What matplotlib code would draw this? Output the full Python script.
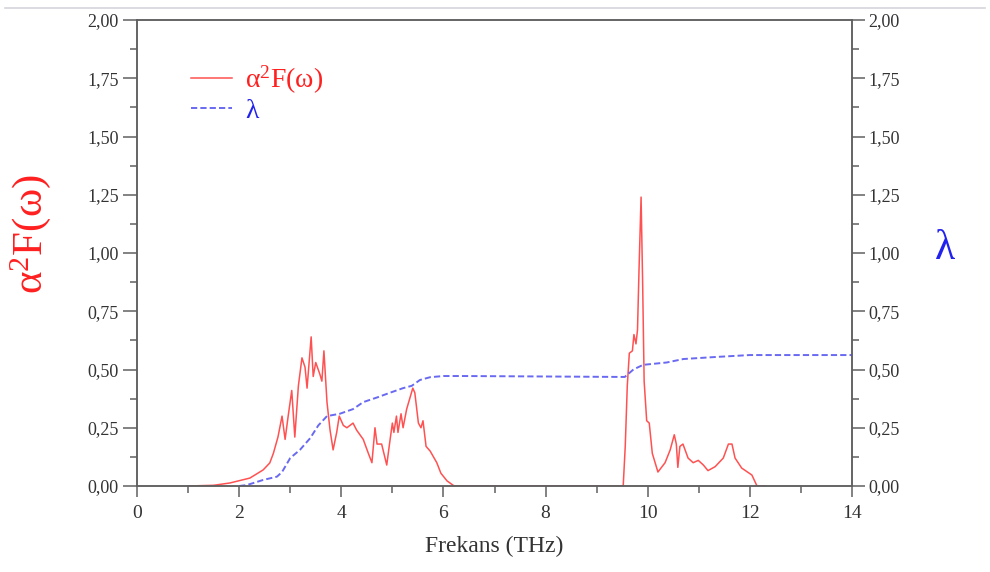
import matplotlib
matplotlib.use("Agg")
import matplotlib.pyplot as plt
from matplotlib.lines import Line2D
from matplotlib.ticker import MultipleLocator, FuncFormatter
import numpy as np

# alpha^2 F(omega) curve
freq_a2f = [1.0, 1.5, 1.82, 2.21, 2.47, 2.6, 2.67, 2.76, 2.84, 2.9, 2.96, 3.03, 3.09, 3.16,
            3.23, 3.29, 3.33, 3.41, 3.45, 3.5, 3.58, 3.62, 3.66, 3.72, 3.78, 3.84, 3.91,
            3.96, 4.04, 4.11, 4.23, 4.30, 4.43, 4.53, 4.6, 4.66, 4.7, 4.79, 4.89, 4.95,
            5.0, 5.03, 5.08, 5.11, 5.17, 5.21, 5.28, 5.40, 5.44, 5.51, 5.56, 5.60, 5.66,
            5.74, 5.87, 5.95, 6.07, 6.21, 6.4,
            9.45, 9.52, 9.56, 9.6, 9.64, 9.7, 9.73, 9.77, 9.8, 9.83, 9.87, 9.9, 9.93, 9.98,
            10.03, 10.09, 10.2, 10.34, 10.44, 10.52, 10.56, 10.59, 10.63, 10.69, 10.79,
            10.89, 10.99, 11.09, 11.18, 11.32, 11.48, 11.58, 11.65, 11.71, 11.84, 12.04,
            12.14, 12.3]
a2f = [0.0, 0.003, 0.013, 0.034, 0.069, 0.099, 0.14, 0.21, 0.30, 0.20, 0.30, 0.41, 0.21, 0.43,
       0.55, 0.51, 0.42, 0.64, 0.47, 0.53, 0.48, 0.45, 0.58, 0.36, 0.24, 0.155, 0.23,
       0.30, 0.26, 0.25, 0.27, 0.24, 0.20, 0.14, 0.10, 0.25, 0.18, 0.18, 0.09, 0.19,
       0.27, 0.23, 0.30, 0.23, 0.31, 0.25, 0.33, 0.42, 0.40, 0.27, 0.25, 0.28, 0.17,
       0.15, 0.10, 0.055, 0.022, 0.0, 0.0,
       0.0, 0.0, 0.17, 0.43, 0.57, 0.58, 0.65, 0.61, 0.67, 0.93, 1.24, 0.88, 0.45, 0.28,
       0.27, 0.14, 0.06, 0.10, 0.155, 0.22, 0.18, 0.08, 0.17, 0.18, 0.12,
       0.10, 0.11, 0.09, 0.066, 0.083, 0.12, 0.18, 0.18, 0.12, 0.077, 0.047,
       0.0, 0.0]

# cumulative lambda
freq_lam = [2.0, 2.15, 2.47, 2.74, 2.84, 3.0, 3.19, 3.39, 3.55, 3.72, 3.97, 4.23, 4.43, 4.7,
            4.95, 5.21, 5.38, 5.54, 5.74, 6.0, 6.38, 8.0, 9.55, 9.72, 9.91, 10.37, 10.7,
            11.35, 12.0, 13.0, 14.0]
lam = [0.0, 0.004, 0.026, 0.04, 0.06, 0.12, 0.155, 0.205, 0.26, 0.30, 0.31, 0.33, 0.36, 0.38,
       0.40, 0.42, 0.43, 0.455, 0.467, 0.472, 0.472, 0.470, 0.468, 0.50, 0.52, 0.53, 0.545,
       0.554, 0.562, 0.562, 0.562]

plt.rcParams['font.family'] = ['Liberation Serif', 'DejaVu Serif']
plt.rcParams['mathtext.fontset'] = 'custom'
plt.rcParams['mathtext.rm'] = 'Liberation Serif'

a2f_label = 'α$\\mathregular{^2}$F(ω)'

fig = plt.figure(figsize=(9.9, 5.72), dpi=100)
ax = fig.add_axes([137/990, 86/572, 715/990, 466/572])
ax2 = ax.twinx()

red_line, = ax.plot(freq_a2f, a2f, color='#ff3333', lw=1.1, alpha=0.85, label=a2f_label)
blue_line, = ax2.plot(freq_lam, lam, color='#4444ee', lw=1.4, alpha=0.8,
                      dashes=(3.2, 1.6), label='λ')

spine_col = '#606060'
label_col = '#333333'
for a in (ax, ax2):
    a.set_xlim(0, 14)
    a.set_ylim(0, 2)
    a.yaxis.set_major_locator(MultipleLocator(0.25))
    a.yaxis.set_minor_locator(MultipleLocator(0.125))
    a.yaxis.set_major_formatter(FuncFormatter(lambda v, p: ('%.2f' % v).replace('.', ',')))
    for s in a.spines.values():
        s.set_color(spine_col)
        s.set_linewidth(1.1)
    a.tick_params(which='major', length=9, width=1.1, color=spine_col,
                  labelsize=13, labelcolor=label_col, pad=3)
    a.tick_params(which='minor', length=5, width=1.1, color=spine_col)

ax.xaxis.set_major_locator(MultipleLocator(2))
ax.xaxis.set_minor_locator(MultipleLocator(1))
ax.tick_params(axis='x', which='major', length=8, pad=6, labelsize=14)
ax.tick_params(axis='x', which='minor', length=5)
ax.tick_params(axis='y', which='major', length=10)

ax.set_xlabel('Frekans (THz)', fontsize=17, color=label_col, labelpad=10)
fig.text(0.031, 0.59, a2f_label, color='#ff2020', fontsize=31,
         rotation=90, ha='center', va='center')
fig.text(0.955, 0.565, 'λ', color='#2222ee', fontsize=30,
         ha='center', va='center')

leg = ax.legend(handles=[red_line, blue_line], loc='upper left',
                bbox_to_anchor=(0.04, 0.96), frameon=False, fontsize=20,
                handlelength=1.5, handletextpad=0.45, labelspacing=0.1)
for txt, c in zip(leg.get_texts(), ['#ff2020', '#2222ee']):
    txt.set_color(c)

# thin page rule at the very top
fig.add_artist(Line2D([0.005, 0.995], [1 - 7.5/572, 1 - 7.5/572], transform=fig.transFigure,
                      color='#d4d4dc', lw=1.2))

fig.savefig('out.png', dpi=100)
